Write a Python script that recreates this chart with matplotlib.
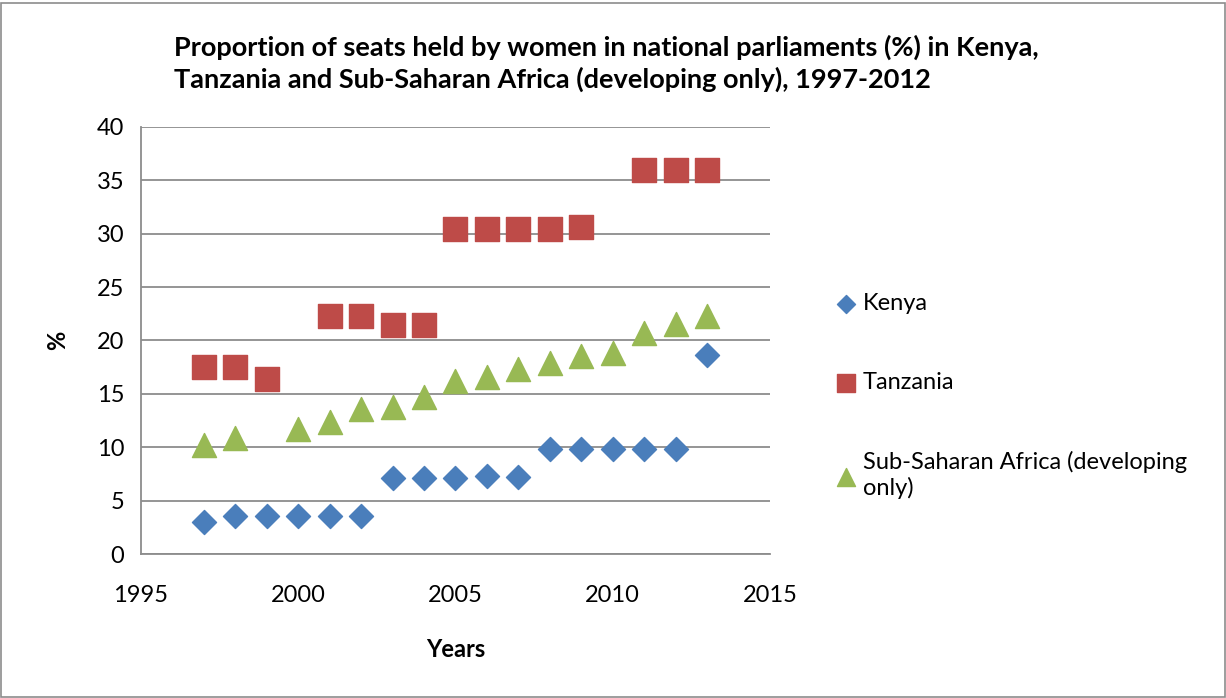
import matplotlib.pyplot as plt
from matplotlib.patches import Rectangle

plt.rcParams['font.family'] = ['Lato', 'DejaVu Sans']

years_kenya = [1997, 1998, 1999, 2000, 2001, 2002, 2003, 2004, 2005, 2006,
               2007, 2008, 2009, 2010, 2011, 2012, 2013]
kenya = [3.0, 3.6, 3.6, 3.6, 3.6, 3.6, 7.1, 7.1, 7.1, 7.3,
         7.2, 9.8, 9.8, 9.8, 9.8, 9.8, 18.6]

years_tanzania = [1997, 1998, 1999, 2001, 2002, 2003, 2004, 2005, 2006,
                  2007, 2008, 2009, 2011, 2012, 2013]
tanzania = [17.5, 17.5, 16.4, 22.3, 22.3, 21.4, 21.4, 30.4, 30.4,
            30.4, 30.4, 30.6, 36.0, 36.0, 36.0]

years_ssa = [1997, 1998, 2000, 2001, 2002, 2003, 2004, 2005, 2006, 2007,
             2008, 2009, 2010, 2011, 2012, 2013]
ssa = [10.2, 10.9, 11.7, 12.4, 13.6, 13.8, 14.7, 16.2, 16.6, 17.3,
       17.9, 18.5, 18.8, 20.7, 21.5, 22.3]

title = ("Proportion of seats held by women in national parliaments (%) in Kenya,\n"
         "Tanzania and Sub-Saharan Africa (developing only), 1997-2012")

fig = plt.figure(figsize=(12.26, 6.98), dpi=100)
ax = fig.add_axes([0.115, 0.2063, 0.513, 0.612])

# outer chart border
fig.patches.append(Rectangle((0.001, 0.001), 0.998, 0.995, transform=fig.transFigure,
                             fill=False, edgecolor='#8c8c8c', linewidth=1.2))

ax.scatter(years_kenya, kenya, marker='D', s=150, color='#4a7ebb', label='Kenya', zorder=3)
ax.scatter(years_tanzania, tanzania, marker='s', s=300, color='#be4b48', label='Tanzania', zorder=3)
ax.scatter(years_ssa, ssa, marker='^', s=300, color='#98b954',
           label='Sub-Saharan Africa (developing\nonly)', zorder=3)

ax.set_xlim(1995, 2015)
ax.set_ylim(0, 40)
ax.set_xticks(range(1995, 2016, 5))
ax.set_yticks(range(0, 41, 5))
ax.grid(axis='y', color='#8c8c8c', linewidth=1.3)
ax.set_axisbelow(True)
for s in ['top', 'right']:
    ax.spines[s].set_visible(False)
for s in ['left', 'bottom']:
    ax.spines[s].set_color('#8c8c8c')
    ax.spines[s].set_linewidth(1.3)
ax.tick_params(length=0, labelsize=17, pad=12)
ax.tick_params(axis='x', pad=22)

ax.set_xlabel('Years', fontsize=17, fontweight='bold', labelpad=23)
ax.set_ylabel('%', fontsize=17, fontweight='bold', labelpad=20)

fig.text(0.142, 0.95, title, fontsize=19.5, fontweight='bold', va='top', ha='left',
         linespacing=1.3)

ax.legend(loc='center left', bbox_to_anchor=(1.05, 0.37), frameon=False, fontsize=17,
          labelspacing=2.45, handletextpad=-0.3, markerscale=0.75)

fig.savefig('out.png', dpi=100)
